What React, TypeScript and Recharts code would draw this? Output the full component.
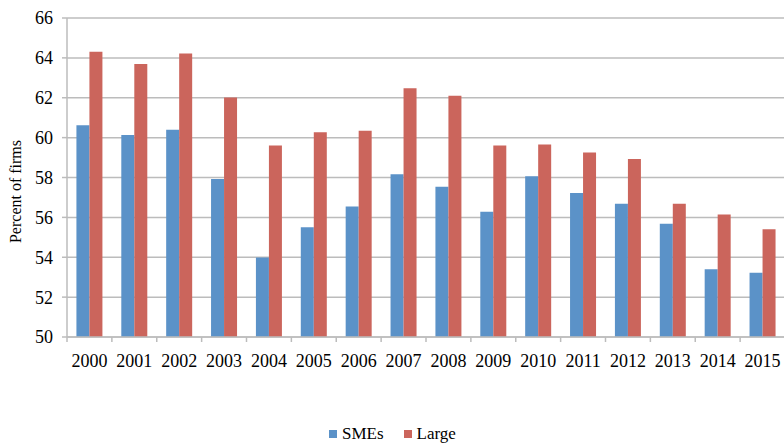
import React from 'react';
import { BarChart, Bar, XAxis, YAxis, CartesianGrid } from 'recharts';

const years = ['2000', '2001', '2002', '2003', '2004', '2005', '2006', '2007', '2008', '2009', '2010', '2011', '2012', '2013', '2014', '2015'];
const smes = [60.62, 60.13, 60.4, 57.92, 53.99, 55.51, 56.55, 58.16, 57.54, 56.28, 58.06, 57.22, 56.68, 55.68, 53.4, 53.22];
const large = [64.31, 63.69, 64.22, 62.01, 59.6, 60.27, 60.35, 62.48, 62.1, 59.6, 59.65, 59.25, 58.93, 56.68, 56.15, 55.4];
const yTicks = [50, 52, 54, 56, 58, 60, 62, 64, 66];

const SERIES = [
    { key: 'smes', name: 'SMEs', color: '#5B92C8' },
    { key: 'large', name: 'Large', color: '#CB655C' },
];

const FONT = 'Liberation Serif';
const GRID = '#BCBCBC';

const chartData = years.map((year, i) => ({ year, smes: smes[i], large: large[i] }));

// Category label plus a small tick mark on the left edge of each band
const YearTick = (props: any) => {
    const { x, y, payload } = props;
    const half = payload.offset || 0;
    return (
        <g>
            <line x1={x - half} x2={x - half} y1={y - 5} y2={y} stroke={GRID} strokeWidth={1.5} />
            <text x={x} y={y} dy={25} textAnchor="middle" fill="#000" fontSize={18} style={{ fontFamily: FONT }}>
                {payload.value}
            </text>
        </g>
    );
};

const SimpleLegend = () => (
    <div style={{
        position: 'absolute',
        left: 329,
        top: 424,
        display: 'flex',
        alignItems: 'center',
        fontFamily: FONT,
        fontSize: 17,
        color: '#000',
        lineHeight: '20px',
    }}>
        {SERIES.map(s => (
            <span key={s.key} style={{ display: 'flex', alignItems: 'center', marginRight: 20 }}>
                <span style={{ width: 8, height: 8, background: s.color, marginRight: 5, display: 'inline-block' }} />
                {s.name}
            </span>
        ))}
    </div>
);

export default function App() {
    return (
        <div style={{
            position: 'absolute',
            left: 0,
            top: 0,
            width: 784,
            height: 446,
            overflow: 'hidden',
            background: '#fff',
        }}>
            <BarChart
                width={787}
                height={446}
                data={chartData}
                margin={{ top: 18, right: 2, left: 0, bottom: 0 }}
                barGap={0}
                barCategoryGap="21%"
            >
                <CartesianGrid vertical={false} stroke={GRID} strokeWidth={1.5} />
                <XAxis
                    dataKey="year"
                    height={109}
                    interval={0}
                    stroke={GRID}
                    strokeWidth={1.5}
                    tickLine={false}
                    tickSize={5}
                    tickMargin={0}
                    tick={<YearTick />}
                />
                <YAxis
                    width={67}
                    domain={[50, 66]}
                    ticks={yTicks}
                    interval={0}
                    stroke={GRID}
                    strokeWidth={1.5}
                    tickSize={5}
                    tickMargin={9}
                    tick={{ fill: '#000', fontSize: 18, style: { fontFamily: FONT } }}
                    label={{
                        value: 'Percent of firms',
                        angle: -90,
                        position: 'insideLeft',
                        dx: 10,
                        dy: 14,
                        style: { fill: '#000', fontSize: 16, fontFamily: FONT, textAnchor: 'middle' },
                    }}
                />
                {SERIES.map(s => (
                    <Bar key={s.key} dataKey={s.key} name={s.name} fill={s.color} isAnimationActive={false} />
                ))}
            </BarChart>
            <SimpleLegend />
        </div>
    );
}
